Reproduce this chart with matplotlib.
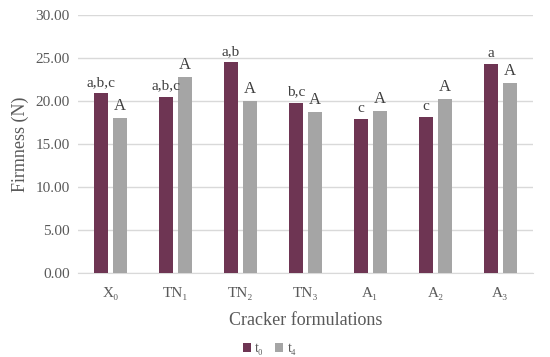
import numpy as np
import matplotlib.pyplot as plt

plt.rcParams['font.family'] = ['Liberation Serif', 'DejaVu Serif']

categories = ['X₀', 'TN₁', 'TN₂', 'TN₃', 'A₁', 'A₂', 'A₃']
t0_values = [20.9, 20.5, 24.5, 19.8, 17.9, 18.1, 24.3]
t4_values = [18.0, 22.8, 20.0, 18.7, 18.8, 20.2, 22.1]
t0_letters = ['a,b,c', 'a,b,c', 'a,b', 'b,c', 'c', 'c', 'a']
t4_letters = ['A', 'A', 'A', 'A', 'A', 'A', 'A']

maroon = '#6E3553'
grey = '#A5A5A5'
text_col = '#595959'

fig = plt.figure(figsize=(5.5, 3.57), dpi=100)
ax = fig.add_axes([0.142, 0.235, 0.827, 0.723])

x = np.arange(len(categories))
w = 0.22
off = 0.145
b0 = ax.bar(x - off, t0_values, w, color=maroon, label='t₀', zorder=3)
b4 = ax.bar(x + off, t4_values, w, color=grey, label='t₄', zorder=3)

for xi, v, s in zip(x, t0_values, t0_letters):
    ax.annotate(s, (xi - off, v), xytext=(0, 3), textcoords='offset points',
                ha='center', va='bottom', fontsize=11, color='#404040')
for xi, v, s in zip(x, t4_values, t4_letters):
    ax.annotate(s, (xi + off, v), xytext=(0, 3), textcoords='offset points',
                ha='center', va='bottom', fontsize=12, color='#404040')

ax.set_ylim(0, 30)
ax.set_xlim(-0.5, len(categories) - 0.5)
ax.set_yticks(np.arange(0, 31, 5))
ax.set_yticklabels([f'{v:.2f}' for v in np.arange(0, 31, 5)])
ax.set_xticks(x)
ax.set_xticklabels(categories)
ax.tick_params(length=0, labelsize=11, colors=text_col, pad=6)
ax.tick_params(axis='x', pad=10)
ax.grid(axis='y', color='#D9D9D9', linewidth=1, zorder=0)
for side in ['top', 'right', 'left']:
    ax.spines[side].set_visible(False)
ax.spines['bottom'].set_color('#D9D9D9')

ax.set_ylabel('Firmness (N)', fontsize=13, color=text_col, labelpad=5)
ax.set_xlabel('Cracker formulations', fontsize=13, color=text_col, labelpad=9)

fig.legend(handles=[b0, b4], loc='lower center', bbox_to_anchor=(0.49, -0.03),
           ncol=2, frameon=False, fontsize=10, handlelength=0.6, handleheight=0.6,
           handletextpad=0.3, columnspacing=0.8, labelcolor=text_col)

fig.savefig('out.png', dpi=100)
